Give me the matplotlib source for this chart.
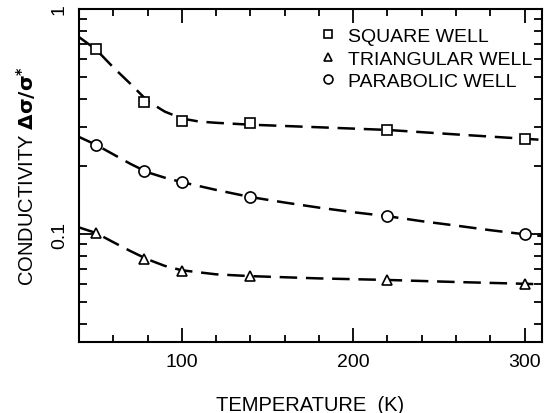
import matplotlib

matplotlib.use("Agg")
import matplotlib.pyplot as plt
from matplotlib.ticker import LogLocator, MultipleLocator, NullFormatter

# measured points
temps = [50, 78, 100, 140, 220, 300]
square_vals = [0.664, 0.386, 0.318, 0.311, 0.291, 0.263]
triangle_vals = [0.101, 0.0776, 0.0683, 0.0649, 0.0625, 0.0601]
parabolic_vals = [0.249, 0.190, 0.170, 0.146, 0.120, 0.0997]

# dashed guide curves
square_curve_t = [40, 50, 60, 70, 80, 90, 100, 110, 120, 140, 180, 220, 260, 300, 310]
square_curve_v = [0.75, 0.66, 0.55, 0.465, 0.39, 0.35, 0.326, 0.316, 0.312,
                  0.306, 0.298, 0.29, 0.277, 0.265, 0.262]

parabolic_curve_t = [40, 50, 60, 70, 80, 90, 100, 120, 140, 160, 180, 200,
                     220, 240, 260, 280, 300, 310]
parabolic_curve_v = [0.27, 0.249, 0.226, 0.205, 0.188, 0.178, 0.170, 0.157,
                     0.146, 0.138, 0.131, 0.125, 0.12, 0.114, 0.109, 0.104,
                     0.0997, 0.098]

triangle_curve_t = [40, 50, 60, 70, 80, 90, 100, 120, 140, 180, 220, 260, 300, 310]
triangle_curve_v = [0.107, 0.101, 0.092, 0.084, 0.0772, 0.0722, 0.069, 0.0662,
                    0.065, 0.0635, 0.0625, 0.0612, 0.0601, 0.0598]

labels = ["SQUARE WELL", "TRIANGULAR WELL", "PARABOLIC WELL"]

plt.rcParams["font.family"] = ["Liberation Sans", "DejaVu Sans"]

fig = plt.figure(figsize=(5.5, 4.14), dpi=100)
ax = fig.add_axes([0.1436, 0.172, 0.8414, 0.804])

dash = (0, (7, 3.5))
for t, v in [(square_curve_t, square_curve_v),
             (parabolic_curve_t, parabolic_curve_v),
             (triangle_curve_t, triangle_curve_v)]:
    ax.plot(t, v, color="black", linewidth=1.8, linestyle=dash, zorder=2)

marker_style = dict(linestyle="none", markerfacecolor="white",
                    markeredgecolor="black", markeredgewidth=1.2, zorder=3)
ax.plot(temps, square_vals, marker="s", markersize=7, label=labels[0], **marker_style)
ax.plot(temps, triangle_vals, marker="^", markersize=7.5, label=labels[1], **marker_style)
ax.plot(temps, parabolic_vals, marker="o", markersize=8, label=labels[2], **marker_style)

ax.set_xlim(40, 310)
ax.set_yscale("log")
ax.set_ylim(0.0332, 1.0)

ax.set_xticks([100, 200, 300])
ax.xaxis.set_minor_locator(MultipleLocator(20))
ax.set_yticks([0.1, 1])
ax.set_yticklabels(["0.1", "1"], rotation=90, va="center")
ax.yaxis.set_minor_locator(LogLocator(base=10, subs=range(2, 10)))
ax.yaxis.set_minor_formatter(NullFormatter())

ax.tick_params(which="both", direction="in", top=True, right=True,
               width=1.3, labelsize=14)
ax.tick_params(axis="x", which="major", length=10, pad=8)
ax.tick_params(axis="x", which="minor", length=5)
ax.tick_params(axis="y", which="major", length=10, pad=8)
ax.tick_params(axis="y", which="minor", length=6)

for spine in ax.spines.values():
    spine.set_linewidth(1.5)

ax.set_xlabel("TEMPERATURE  (K)", fontsize=14.5, labelpad=18)
ax.set_ylabel(r"CONDUCTIVITY $\mathbf{\Delta\sigma / \sigma^{*}}$", fontsize=14.5, labelpad=9)

leg = ax.legend(loc="upper right", frameon=False, fontsize=14,
                handlelength=0.6, handletextpad=0.7, labelspacing=0.25,
                borderaxespad=0.3, markerscale=0.8,
                bbox_to_anchor=(1.008, 0.985))

fig.savefig("out.png", dpi=100)
